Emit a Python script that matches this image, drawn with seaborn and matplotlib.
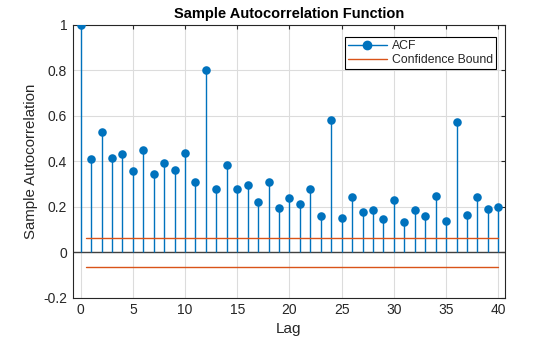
import numpy as np
import pandas as pd
import matplotlib
matplotlib.use("Agg")
import matplotlib.pyplot as plt
import seaborn as sns
from matplotlib.lines import Line2D
from matplotlib.legend_handler import HandlerLine2D

lags = list(range(41))
acf = [1.0, 0.412, 0.530, 0.416, 0.434, 0.359, 0.451, 0.346, 0.394, 0.364,
       0.438, 0.311, 0.801, 0.280, 0.385, 0.280, 0.295, 0.220, 0.311, 0.197,
       0.241, 0.212, 0.280, 0.158, 0.582, 0.153, 0.245, 0.177, 0.188, 0.145,
       0.232, 0.133, 0.188, 0.158, 0.250, 0.137, 0.574, 0.166, 0.245, 0.193,
       0.201]
bound = 0.063
bound_x = [0.5, 40]
yticks = [-0.2, 0, 0.2, 0.4, 0.6, 0.8, 1]
ytick_labels = ["-0.2", "0", "0.2", "0.4", "0.6", "0.8", "1"]
xticks = [0, 5, 10, 15, 20, 25, 30, 35, 40]

blue = "#0072BD"
orange = "#D95319"

sns.set_style("white")
plt.rcParams['font.family'] = ['Liberation Sans', 'DejaVu Sans']


class MarkerRightHandler(HandlerLine2D):
    def get_xdata(self, legend, xdescent, ydescent, width, height, fontsize):
        xdata = np.array([-xdescent, -xdescent + width])
        xmark = np.array([-xdescent + 0.74 * width])
        return xdata, xmark


fig = plt.figure(figsize=(5.6, 3.37), dpi=100)
ax = fig.add_axes([0.130, 0.116, 0.772, 0.810])

df = pd.DataFrame({"lag": lags, "acf": acf})
ax.axhline(0, color="#404040", lw=1.0, zorder=2)
ax.vlines(df["lag"], 0, df["acf"], color=blue, lw=1.0, zorder=3)
sns.scatterplot(data=df, x="lag", y="acf", ax=ax, color=blue, s=38,
                edgecolor=blue, linewidth=0, zorder=4, legend=False)
cb = pd.DataFrame({"x": bound_x * 2, "y": [bound, bound, -bound, -bound],
                   "g": ["u", "u", "l", "l"]})
for g, sub in cb.groupby("g"):
    sns.lineplot(data=sub, x="x", y="y", ax=ax, color=orange, lw=1.0,
                 zorder=3, legend=False)

ax.set_xlim(-0.75, 40.65)
ax.set_ylim(-0.2, 1)
ax.set_xticks(xticks)
ax.set_xticklabels([str(t) for t in xticks])
ax.set_yticks(yticks)
ax.set_yticklabels(ytick_labels)
ax.grid(True, color="#dcdcdc", lw=0.8)
ax.set_axisbelow(True)
for s in ax.spines.values():
    s.set_color("#262626")
    s.set_linewidth(0.8)
ax.tick_params(direction="in", length=3, width=0.8, top=True, right=True,
               labelsize=10, colors="#262626", pad=4)
ax.set_xlabel("Lag", fontsize=11, color="#262626", labelpad=3)
ax.set_ylabel("Sample Autocorrelation", fontsize=10.8, color="#262626", labelpad=4)
ax.set_title("Sample Autocorrelation Function", fontsize=10.5, fontweight="bold",
             color="#000000", pad=5)

h1 = Line2D([0, 1], [0, 0], color=blue, lw=1.0, marker="o", markersize=6)
h2 = Line2D([0, 1], [0, 0], color=orange, lw=1.0)
leg = ax.legend(handles=[h1, h2], labels=["ACF", "Confidence Bound"],
                handler_map={h1: MarkerRightHandler()},
                loc="upper right", bbox_to_anchor=(0.979, 0.956), fontsize=8.8,
                frameon=True, fancybox=False, edgecolor="#000000",
                framealpha=1, borderpad=0.25, labelspacing=0.15,
                handlelength=3.2, handletextpad=0.4, borderaxespad=0.0)
leg.get_frame().set_linewidth(0.8)

fig.savefig("out.png", dpi=100)
